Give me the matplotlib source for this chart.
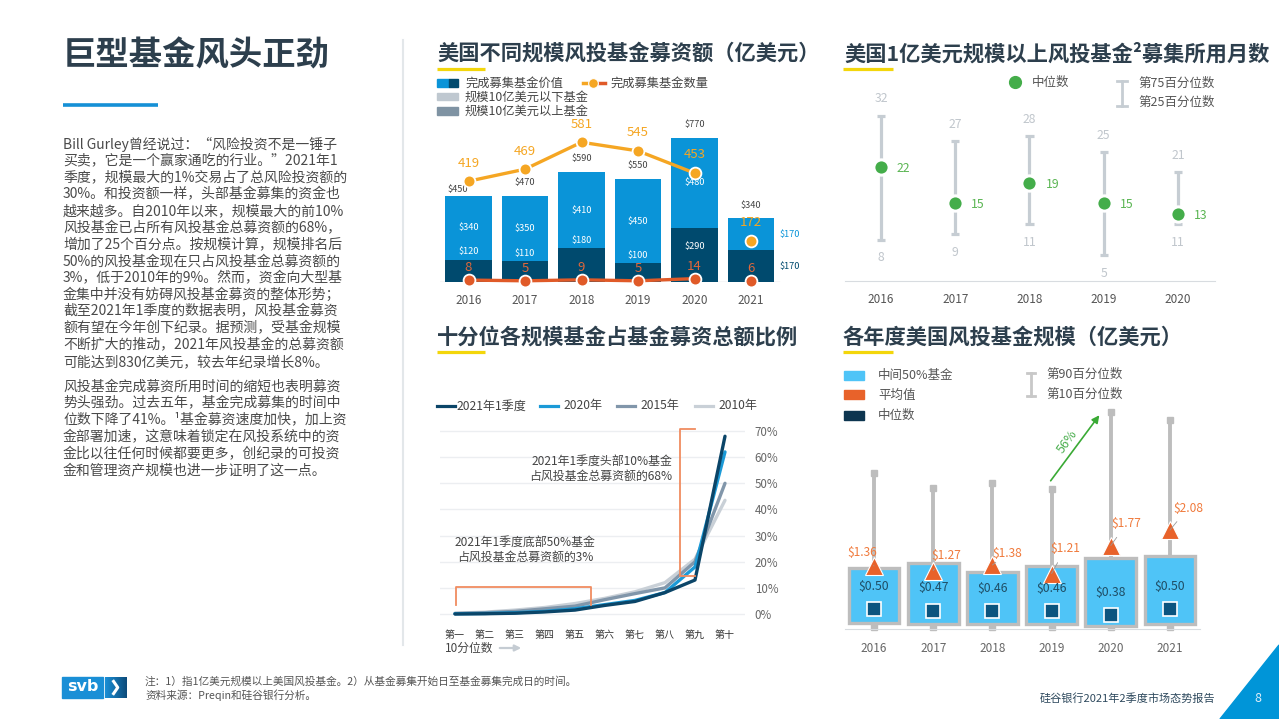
import matplotlib
matplotlib.use('Agg')
import matplotlib.pyplot as plt
import numpy as np
from matplotlib.patches import Rectangle, Polygon, FancyArrowPatch
from matplotlib.lines import Line2D

plt.rcParams['font.family'] = ['Noto Sans CJK SC', 'DejaVu Sans']

# ---------------- data ----------------
# Chart 1: US VC fundraising by fund size (USD 100M)
fund_years = ['2016', '2017', '2018', '2019', '2020', '2021']
small_funds = [340, 350, 410, 450, 480, 170]     # funds < $1B
large_funds = [120, 110, 180, 100, 290, 170]     # funds >= $1B
total_value = [450, 470, 590, 550, 770, 340]
fund_count = [419, 469, 581, 545, 453, 172]
large_count = [8, 5, 9, 5, 14, 6]

# Chart 2: months to close funds > $100M
month_years = ['2016', '2017', '2018', '2019', '2020']
month_median = [22, 15, 19, 15, 13]
month_p75 = [32, 27, 28, 25, 21]
month_p25 = [8, 9, 11, 5, 11]

# Chart 3: share of total fundraising by decile (%)
deciles = ['第一', '第二', '第三', '第四', '第五', '第六', '第七', '第八', '第九', '第十']
share_2021q1 = [0.0, 0.1, 0.3, 0.8, 1.5, 3.3, 4.8, 8.2, 13.0, 68.0]
share_2020 = [0.1, 0.2, 0.5, 1.0, 2.0, 3.6, 5.2, 8.2, 18.0, 62.0]
share_2015 = [0.2, 0.5, 1.0, 2.0, 3.0, 5.5, 7.8, 10.0, 20.0, 50.0]
share_2010 = [0.3, 0.7, 1.5, 2.5, 4.0, 6.0, 8.5, 12.0, 21.0, 43.5]

# Chart 4: US VC fund size (USD 100M)
size_years = ['2016', '2017', '2018', '2019', '2020', '2021']
size_median = [0.50, 0.47, 0.46, 0.46, 0.38, 0.50]
size_mean = [1.36, 1.27, 1.38, 1.21, 1.77, 2.08]
size_p25 = [0.22, 0.20, 0.20, 0.20, 0.16, 0.20]
size_p75 = [1.32, 1.42, 1.24, 1.36, 1.52, 1.56]
size_p10 = [0.15, 0.15, 0.15, 0.15, 0.15, 0.15]
size_p90 = [3.22, 2.92, 3.02, 2.90, 4.44, 4.28]

# ---------------- layout helpers ----------------
W, H = 1279, 719
fig = plt.figure(figsize=(W / 100, H / 100), dpi=100)
fig.patch.set_facecolor('white')


def fx(x):
    return x / W


def fy(y):
    return 1 - y / H


def px_axes(x0, y0, x1, y1):
    return fig.add_axes([x0 / W, 1 - y1 / H, (x1 - x0) / W, (y1 - y0) / H])


def ftext(x, y, s, **kw):
    kw.setdefault('va', 'center')
    return fig.text(fx(x), fy(y), s, **kw)


def fline(xs, ys, **kw):
    fig.add_artist(Line2D([fx(v) for v in xs], [fy(v) for v in ys], **kw))


def frect(x0, y0, x1, y1, **kw):
    fig.add_artist(Rectangle((fx(x0), fy(y1)), (x1 - x0) / W, (y1 - y0) / H,
                             transform=fig.transFigure, **kw))


TITLE_C = '#2d3f4d'
TEXT_C = '#555555'
YELLOW = '#f3d60b'
TITLE_FS = 15.3

# ---------------- left text panel ----------------
ftext(63, 56, '巨型基金风头正劲', fontsize=24, fontweight='bold', color=TITLE_C)
fline([63, 158], [105, 105], color='#1590d6', lw=2.6, solid_capstyle='butt')

para1 = [
    'Bill Gurley曾经说过：“风险投资不是一锤子',
    '买卖，它是一个赢家通吃的行业。”2021年1',
    '季度，规模最大的1%交易占了总风险投资额的',
    '30%。和投资额一样，头部基金募集的资金也',
    '越来越多。自2010年以来，规模最大的前10%',
    '风投基金已占所有风投基金总募资额的68%，',
    '增加了25个百分点。按规模计算，规模排名后',
    '50%的风投基金现在只占风投基金总募资额的',
    '3%，低于2010年的9%。然而，资金向大型基',
    '金集中并没有妨碍风投基金募资的整体形势；',
    '截至2021年1季度的数据表明，风投基金募资',
    '额有望在今年创下纪录。据预测，受基金规模',
    '不断扩大的推动，2021年风投基金的总募资额',
    '可能达到830亿美元，较去年纪录增长8%。',
]
para2 = [
    '风投基金完成募资所用时间的缩短也表明募资',
    '势头强劲。过去五年，基金完成募集的时间中',
    '位数下降了41%。¹基金募资速度加快，加上资',
    '金部署加速，这意味着锁定在风投系统中的资',
    '金比以往任何时候都要更多，创纪录的可投资',
    '金和管理资产规模也进一步证明了这一点。',
]
for k, s in enumerate(para1):
    ftext(63, 144 + 16.75 * k, s, fontsize=10, color='#4a4a4a')
for k, s in enumerate(para2):
    ftext(63, 387 + 16.7 * k, s, fontsize=10, color='#4a4a4a')

fline([403, 403], [40, 645], color='#e3e7ea', lw=1.5)

# ---------------- chart 1 ----------------
ftext(437, 53, '美国不同规模风投基金募资额（亿美元）', fontsize=TITLE_FS, fontweight='bold', color=TITLE_C)
fline([437, 485], [69, 69], color=YELLOW, lw=2.3, solid_capstyle='butt')

C_LIGHT = '#0a94d8'
C_DARK = '#004a6e'
C_CNT = '#f5a623'
C_CNT2 = '#e05a28'

frect(437, 79, 449, 87, color=C_LIGHT)
frect(449, 79, 458, 87, color=C_DARK)
ftext(465, 83, '完成募集基金价值', fontsize=8.8, color='#444444')
frect(437, 93, 458, 100, color='#bfc8d0')
ftext(465, 97, '规模10亿美元以下基金', fontsize=8.8, color='#444444')
frect(437, 107, 458, 115, color='#7f93a3')
ftext(465, 111, '规模10亿美元以上基金', fontsize=8.8, color='#444444')
fline([583, 593], [83, 83], color=C_CNT, lw=2.5)
fline([593, 605], [83, 83], color=C_CNT2, lw=2.5)
fline([593], [83], marker='o', ms=7, color=C_CNT, mec='white', mew=0.8, lw=0)
ftext(610, 83, '完成募集基金数量', fontsize=8.8, color='#444444')

ax1 = px_axes(440.25, 110, 807.5, 282)
x1 = np.arange(len(fund_years))
ax1.set_xlim(-0.5, 6.0)
ax1.set_ylim(0, 920)
ax1.bar(x1, large_funds, width=0.83, color=C_DARK, zorder=2)
ax1.bar(x1, small_funds, bottom=large_funds, width=0.83, color=C_LIGHT, zorder=2)
total_label_offsets = [(-8, 5), (0, 9.5), (0, 9.5), (0, 9.5), (0, 9.5), (0, 9.5)]
for i in range(len(fund_years)):
    top = large_funds[i] + small_funds[i]
    ax1.annotate(f'${total_value[i]}', (i, top), xytext=total_label_offsets[i],
                 textcoords='offset points', ha='center', va='center', fontsize=6.6,
                 color='#444444')
    if i < len(fund_years) - 1:
        ax1.text(i, large_funds[i] + small_funds[i] / 2, f'${small_funds[i]}', ha='center',
                 va='center', fontsize=6.6, color='white')
        if i < 4:
            ax1.annotate(f'${large_funds[i]}', (i, large_funds[i]), xytext=(0, 5.5),
                         textcoords='offset points', ha='center', va='center',
                         fontsize=6.6, color='white')
        else:
            ax1.text(i, large_funds[i] * 0.65, f'${large_funds[i]}', ha='center',
                     va='center', fontsize=6.6, color='white')
    else:
        ax1.text(i + 0.5, large_funds[i] + small_funds[i] / 2, f'${small_funds[i]}',
                 ha='left', va='center', fontsize=6.6, color=C_LIGHT)
        ax1.text(i + 0.5, large_funds[i] / 2, f'${large_funds[i]}',
                 ha='left', va='center', fontsize=6.6, color=C_DARK)
ax1.axhline(0, xmin=0, xmax=6.0 / 6.5, color='#d0d5da', lw=1, zorder=1)
ax1.set_xticks(x1, fund_years)
ax1.tick_params(axis='x', length=0, pad=9, labelsize=8.5, labelcolor='#555555')
ax1.set_yticks([])
for s in ax1.spines.values():
    s.set_visible(False)

ax1b = ax1.twinx()
ax1b.set_ylim(0, 715)
ax1b.plot(x1[:5], fund_count[:5], color=C_CNT, lw=2.4, marker='o', ms=8.5,
          mfc=C_CNT, mec='white', mew=1.3, zorder=3)
ax1b.plot(x1[5:], fund_count[5:], lw=0, marker='o', ms=8.5, mfc=C_CNT, mec='white',
          mew=1.3, zorder=3)
ax1b.plot(x1[:5], large_count[:5], color=C_CNT2, lw=2.4, marker='o', ms=8.5,
          mfc=C_CNT2, mec='white', mew=1.3, zorder=3, clip_on=False)
ax1b.plot(x1[5:], large_count[5:], lw=0, marker='o', ms=8.5, mfc=C_CNT2, mec='white',
          mew=1.3, zorder=3, clip_on=False)
for i in range(len(fund_years)):
    ax1b.annotate(str(fund_count[i]), (i, fund_count[i]), xytext=(0, 13), textcoords='offset points',
                  ha='center', va='center', fontsize=9.5, color=C_CNT)
    ax1b.annotate(str(large_count[i]), (i, large_count[i]), xytext=(0, 9), textcoords='offset points',
                  ha='center', va='center', fontsize=9.5, color='#e0673a')
ax1b.set_yticks([])
for s in ax1b.spines.values():
    s.set_visible(False)

# ---------------- chart 2 ----------------
ftext(844, 54, '美国1亿美元规模以上风投基金²募集所用月数', fontsize=TITLE_FS, fontweight='bold', color=TITLE_C)
fline([843, 893], [69, 69], color=YELLOW, lw=2.3, solid_capstyle='butt')

C_GREEN = '#44ad4a'
C_ERR = '#c6cdd3'
fline([1015], [82], marker='o', ms=8.5, color=C_GREEN, lw=0)
ftext(1032, 82, '中位数', fontsize=9, color=TEXT_C)
fline([1122, 1122], [81, 106], color=C_ERR, lw=2)
fline([1117, 1127], [81, 81], color=C_ERR, lw=2)
fline([1117, 1127], [106, 106], color=C_ERR, lw=2)
ftext(1138, 83, '第75百分位数', fontsize=9, color=TEXT_C)
ftext(1138, 102, '第25百分位数', fontsize=9, color=TEXT_C)

ax2 = px_axes(845, 95, 1215, 281)
x2 = np.arange(len(month_years))
ax2.set_xlim(-0.485, 4.5)
ax2.set_ylim(0, (281 - 95) / 5.17)
ax2.vlines(x2, month_p25, month_p75, color=C_ERR, lw=2.3, zorder=2)
ax2.hlines(month_p75, x2 - 0.055, x2 + 0.055, color=C_ERR, lw=2.3, zorder=2)
ax2.hlines(month_p25, x2 - 0.055, x2 + 0.055, color=C_ERR, lw=2.3, zorder=2)
ax2.plot(x2, month_median, lw=0, marker='o', ms=11, mfc=C_GREEN, mec='white', mew=2.2, zorder=3)
for i in range(len(month_years)):
    ax2.annotate(str(month_median[i]), (i, month_median[i]), xytext=(11.5, -1), textcoords='offset points',
                 ha='left', va='center', fontsize=8.8, color='#5ab552')
    ax2.annotate(str(month_p75[i]), (i, month_p75[i]), xytext=(0, 12), textcoords='offset points',
                 ha='center', va='center', fontsize=8.8, color='#c0c6cc', annotation_clip=False)
    ax2.annotate(str(month_p25[i]), (i, month_p25[i]), xytext=(0, -13), textcoords='offset points',
                 ha='center', va='center', fontsize=8.8, color='#c0c6cc')
ax2.set_xticks(x2, month_years)
ax2.tick_params(axis='x', length=0, pad=9, labelsize=8.5, labelcolor='#555555')
ax2.set_yticks([])
for k, s in ax2.spines.items():
    s.set_visible(k == 'bottom')
ax2.spines['bottom'].set_color('#d8dce0')

# ---------------- chart 3 ----------------
ftext(437, 337, '十分位各规模基金占基金募资总额比例', fontsize=TITLE_FS, fontweight='bold', color=TITLE_C)
fline([437, 485], [352, 352], color=YELLOW, lw=2.3, solid_capstyle='butt')

series3 = [('2021年1季度', share_2021q1, '#0b4568', 437, 455, 456),
           ('2020年', share_2020, '#1b9ad7', 540, 558, 563),
           ('2015年', share_2015, '#8196aa', 617, 635, 640),
           ('2010年', share_2010, '#c9d0d7', 695, 713, 718)]
for name, vals, col, l0, l1, tx in series3:
    fline([l0, l1], [406, 406], color=col, lw=2.3)
    ftext(tx, 406, name, fontsize=8.7, color='#444444')

ax3 = px_axes(440, 425, 745, 620)
x3 = np.arange(len(deciles))
ax3.set_xlim(-0.5, (745 - 455) / 30)
ax3.set_ylim(-6 / 2.614, (614 - 425) / 2.614)
ax3.set_yticks(range(0, 80, 10))
ax3.set_yticklabels([f'{v}%' for v in range(0, 80, 10)])
ax3.yaxis.tick_right()
ax3.grid(axis='y', color='#eceef1', lw=1)
ax3.set_axisbelow(True)
for name, vals, col, *_ in reversed(series3):
    ax3.plot(x3, vals, color=col, lw=2.4, solid_capstyle='round', solid_joinstyle='round')
ax3.set_xticks(x3, deciles)
ax3.tick_params(axis='x', length=0, pad=7, labelsize=7.2, labelcolor='#333333')
ax3.tick_params(axis='y', length=0, pad=7, labelsize=8.3, labelcolor='#666666')
for s in ax3.spines.values():
    s.set_visible(False)

BR = '#f08c60'
fline([695, 680, 680, 695], [429, 429, 576, 576], color=BR, lw=1.3)
fline([456, 456, 591, 591], [605, 587, 587, 605], color=BR, lw=1.3)
ftext(672, 461, '2021年1季度头部10%基金', fontsize=8.6, color='#444444', ha='right')
ftext(672, 476, '占风投基金总募资额的68%', fontsize=8.6, color='#444444', ha='right')
ftext(525, 542, '2021年1季度底部50%基金', fontsize=8.6, color='#444444', ha='center')
ftext(525, 557, '占风投基金总募资额的3%', fontsize=8.6, color='#444444', ha='center')
ftext(445, 648, '10分位数', fontsize=8.5, color='#444444')
fig.add_artist(FancyArrowPatch((fx(497), fy(648)), (fx(524), fy(648)),
                               transform=fig.transFigure, arrowstyle='-|>',
                               mutation_scale=9, color='#c5ccd3', lw=1.6))

# ---------------- chart 4 ----------------
ftext(843, 337, '各年度美国风投基金规模（亿美元）', fontsize=TITLE_FS, fontweight='bold', color=TITLE_C)
fline([843, 893], [352, 352], color=YELLOW, lw=2.3, solid_capstyle='butt')

C_BOX = '#4fc4f7'
C_MEAN = '#e8622a'
C_MED = '#0b557f'
C_WH = '#bdbdbd'
frect(844, 371, 864, 380, color=C_BOX)
ftext(878, 375, '中间50%基金', fontsize=9, color=TEXT_C)
frect(844, 390, 864, 399, color=C_MEAN)
ftext(878, 395, '平均值', fontsize=9, color=TEXT_C)
frect(844, 411, 864, 420, color='#0d3550')
ftext(878, 415, '中位数', fontsize=9, color=TEXT_C)
fline([1031, 1031], [373, 396], color='#c8c8c8', lw=2)
fline([1027, 1035], [373, 373], color='#c8c8c8', lw=2)
fline([1027, 1035], [396, 396], color='#c8c8c8', lw=2)
ftext(1046, 374, '第90百分位数', fontsize=9, color=TEXT_C)
ftext(1046, 394, '第10百分位数', fontsize=9, color=TEXT_C)

ax4 = px_axes(845, 400, 1200, 629)
x4 = np.arange(len(size_years))
ax4.set_xlim((845 - 874) / 59.2, (1200 - 874) / 59.2)
ax4.set_ylim(0.1, 0.1 + 229 / 50)
ax4.vlines(x4, size_p10, size_p90, color=C_WH, lw=2.8, zorder=2)
ax4.plot(x4, size_p90, lw=0, marker='s', ms=4.3, color=C_WH, zorder=2)
ax4.plot(x4, size_p10, lw=0, marker='s', ms=4.3, color=C_WH, zorder=2, clip_on=False)
for i in range(len(size_years)):
    ax4.add_patch(Rectangle((i - 0.43, size_p25[i]), 0.86, size_p75[i] - size_p25[i],
                            facecolor=C_BOX, edgecolor=C_WH, lw=2.4, zorder=3))
ax4.plot(x4, size_median, lw=0, marker='s', ms=10.5, mfc=C_MED, mec='white', mew=1.2, zorder=5)
ax4.plot(x4, size_mean, lw=0, marker='^', ms=13, mfc=C_MEAN, mec='white', mew=0.8, zorder=6)
mean_label_offsets = [(-8.6, 10), (9.4, 10.8), (10.8, 8.6), (10, 18), (11.5, 15.8), (13, 15.8)]
for i in range(len(size_years)):
    ax4.annotate(f'${size_median[i]:.2f}', (i, size_median[i]), xytext=(0, 16.5),
                 textcoords='offset points', ha='center', va='center', fontsize=8.8,
                 color='#1f4e66', zorder=7)
    dx, dy = mean_label_offsets[i]
    ax4.annotate(f'${size_mean[i]:.2f}', (i, size_mean[i]), xytext=(dx, dy),
                 textcoords='offset points', ha='center', va='center', fontsize=8.6,
                 color='#f07a3c', zorder=7,
                 arrowprops=dict(arrowstyle='-', color='#9a9a9a', lw=0.6, shrinkA=4, shrinkB=0))
ax4.set_xticks(x4, size_years)
ax4.tick_params(axis='x', length=0, pad=9, labelsize=8.5, labelcolor='#666666')
ax4.set_yticks([])
for k, s in ax4.spines.items():
    s.set_visible(k == 'bottom')
ax4.spines['bottom'].set_color('#d8dce0')

fig.add_artist(FancyArrowPatch((fx(1049), fy(483)), (fx(1101), fy(413)),
                               transform=fig.transFigure, arrowstyle='-|>',
                               mutation_scale=11, color='#3aaa35', lw=1.2))
ftext(1067, 442, '56%', fontsize=9, color='#4caf50', rotation=54, ha='center')

# ---------------- footer ----------------
frect(62, 677, 103, 698, color='#1a8fd6')
ftext(82.5, 686.5, 'svb', fontsize=11.5, fontweight='bold', color='white', ha='center',
      family=['DejaVu Sans'])
gax = px_axes(105, 677, 127, 698)
grad = np.linspace(0, 1, 50).reshape(1, -1)
gax.imshow(grad, aspect='auto', cmap=matplotlib.colors.LinearSegmentedColormap.from_list(
    'g', ['#1a8fd6', '#0d4b7a']), extent=[0, 1, 0, 1])
gax.plot([0.35, 0.58, 0.35], [0.85, 0.5, 0.15], color='white', lw=2.2, solid_capstyle='butt')
gax.set_xlim(0, 1)
gax.set_ylim(0, 1)
gax.axis('off')
ftext(145, 681, '注：1）指1亿美元规模以上美国风投基金。2）从基金募集开始日至基金募集完成日的时间。',
      fontsize=7.7, color='#555555')
ftext(145, 695, '资料来源：Preqin和硅谷银行分析。', fontsize=7.7, color='#555555')
ftext(1215, 698, '硅谷银行2021年2季度市场态势报告', fontsize=8, color='#2f4a5e', ha='right')
fig.add_artist(Polygon([(fx(1279), fy(645)), (fx(1220), fy(719)), (fx(1279), fy(719))],
                       closed=True, transform=fig.transFigure, color='#0095d8'))
ftext(1258, 698, '8', fontsize=9, color='#dfeefa', ha='center')

fig.savefig('out.png', dpi=100)
